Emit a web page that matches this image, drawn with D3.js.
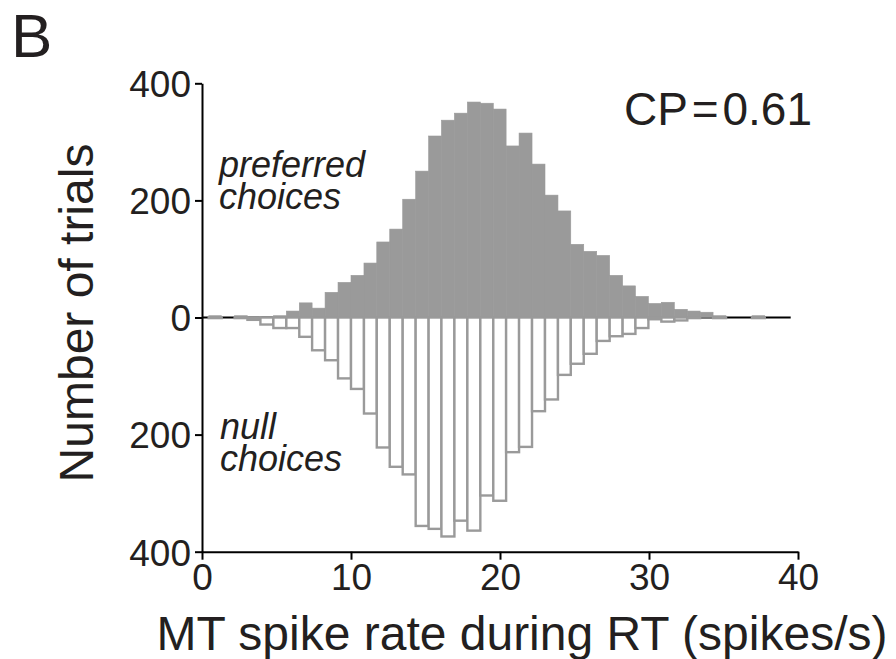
<!DOCTYPE html>
<html>
<head>
<meta charset="utf-8">
<script src="https://cdn.jsdelivr.net/npm/d3@7"></script>
<style>
  body { margin: 0; background: #fff; }
  svg { display: block; font-family: "Liberation Sans", Arial, Helvetica, sans-serif; }
</style>
</head>
<body>
<svg width="896" height="659"></svg>
<script>
'use strict';

// left edges of the spike-rate bins (spikes/s), last value closes the final bin
var binEdges = [0.45, 1.32, 2.19, 3.05, 3.92, 4.79, 5.66, 6.53, 7.39, 8.26,
  9.13, 10.00, 10.87, 11.73, 12.60, 13.47, 14.34, 15.21, 16.07, 16.94,
  17.81, 18.68, 19.55, 20.41, 21.28, 22.15, 23.02, 23.89, 24.75, 25.62,
  26.49, 27.36, 28.23, 29.09, 29.96, 30.83, 31.70, 32.57, 33.43, 34.30,
  35.17, 36.04, 36.91, 37.77, 38.64, 39.51];

// trial counts per bin, preferred choices (plotted up)
var preferred = [1, 0, 1, 0, 0, 1, 11, 25, 16, 43,
  60, 72, 93, 129, 151, 202, 250, 310, 337, 349,
  368, 366, 356, 293, 315, 262, 209, 182, 125, 113,
  106, 72, 54, 36, 24, 26, 14, 11, 9, 1,
  0, 0, 1, 0, 0];

// trial counts per bin, null choices (plotted down)
var nullChoices = [1, 0, 1, 4, 12, 18, 18, 33, 56, 73,
  104, 122, 164, 222, 255, 268, 356, 361, 374, 347,
  364, 304, 313, 230, 221, 160, 140, 98, 79, 62,
  40, 32, 28, 18, 3, 7, 5, 1, 0, 1,
  0, 0, 1, 0, 0];

var xTicks = [0, 10, 20, 30, 40];
var yTicks = [-400, -200, 0, 200, 400];

var svg = d3.select('svg');
var ink = '#231f20';
var barGray = '#9a9a9a';

var x = d3.scaleLinear().domain([0, 40]).range([202, 798]);
var y = d3.scaleLinear().domain([-400, 400]).range([551.7, 83.3]);

var bins = preferred.map(function(p, i){
  return {lo: binEdges[i], hi: binEdges[i + 1], pref: p, nul: nullChoices[i]};
});

// zero line
svg.append('line')
  .attr('x1', x(0)).attr('x2', x(binEdges[binEdges.length - 1]))
  .attr('y1', y(0)).attr('y2', y(0))
  .attr('stroke', '#000').attr('stroke-width', 2);

// preferred: filled gray bars (thin same-colour stroke hides seams)
svg.append('g').selectAll('rect')
  .data(bins.filter(function(d){ return d.pref > 0; }))
  .enter().append('rect')
  .attr('x', function(d){ return x(d.lo); })
  .attr('width', function(d){ return x(d.hi) - x(d.lo); })
  .attr('y', function(d){ return y(d.pref) - (d.pref < 3 ? 1.2 : 0); })
  .attr('height', function(d){ return y(0) - y(d.pref) + (d.pref < 3 ? 1.2 : 0); })
  .attr('fill', barGray)
  .attr('stroke', barGray)
  .attr('stroke-width', 0.6);

// null: open gray outlined bars
svg.append('g').selectAll('rect')
  .data(bins.filter(function(d){ return d.nul > 0; }))
  .enter().append('rect')
  .attr('x', function(d){ return x(d.lo); })
  .attr('width', function(d){ return x(d.hi) - x(d.lo); })
  .attr('y', y(0))
  .attr('height', function(d){ return y(-d.nul) - y(0); })
  .attr('fill', '#fff')
  .attr('stroke', barGray)
  .attr('stroke-width', 2.4);

// axes
var yAxis = d3.axisLeft(y).tickValues(yTicks)
  .tickFormat(function(v){ return Math.abs(v); })
  .tickSizeInner(7).tickSizeOuter(0).tickPadding(4);
var xAxis = d3.axisBottom(x).tickValues(xTicks)
  .tickSizeInner(8).tickSizeOuter(0).tickPadding(4);

var gy = svg.append('g').attr('transform', 'translate(' + x(0) + ',0)').call(yAxis);
var gx = svg.append('g').attr('transform', 'translate(0,' + y(-400) + ')').call(xAxis);

[gx, gy].forEach(function(g){
  g.select('.domain').attr('stroke', '#000').attr('stroke-width', 2);
  g.selectAll('.tick line').attr('stroke', '#000').attr('stroke-width', 2);
  g.selectAll('.tick text')
    .attr('fill', ink)
    .style('font-family', '"Liberation Sans", Arial, sans-serif')
    .style('font-size', '37px');
});
gy.selectAll('.tick text').attr('dy', '0.36em');
gx.selectAll('.tick text').attr('dy', '0.72em');

// axis titles
svg.append('text')
  .attr('x', 522).attr('y', 650)
  .attr('text-anchor', 'middle')
  .attr('fill', ink)
  .style('font-size', '48px')
  .text('MT spike rate during RT (spikes/s)');

svg.append('text')
  .attr('transform', 'translate(93,313) rotate(-90)')
  .attr('text-anchor', 'middle')
  .attr('fill', ink)
  .style('font-size', '48px')
  .text('Number of trials');

// panel letter
svg.append('text')
  .attr('x', 11).attr('y', 57)
  .attr('fill', ink)
  .style('font-size', '62px')
  .text('B');

// CP annotation
svg.append('text')
  .attr('x', 812).attr('y', 125)
  .attr('text-anchor', 'end')
  .attr('fill', ink)
  .style('font-size', '46px')
  .text('CP\u200a=\u200a0.61');

// group labels
function label(lines, x0, y0){
  var t = svg.append('text')
    .attr('fill', ink)
    .style('font-size', '36px')
    .style('font-style', 'italic');
  lines.forEach(function(s, i){
    t.append('tspan').attr('x', x0).attr('y', y0 + i * 32).text(s);
  });
}
label(['preferred', 'choices'], 219, 177);
label(['null', 'choices'], 220, 438.5);
</script>
</body>
</html>
